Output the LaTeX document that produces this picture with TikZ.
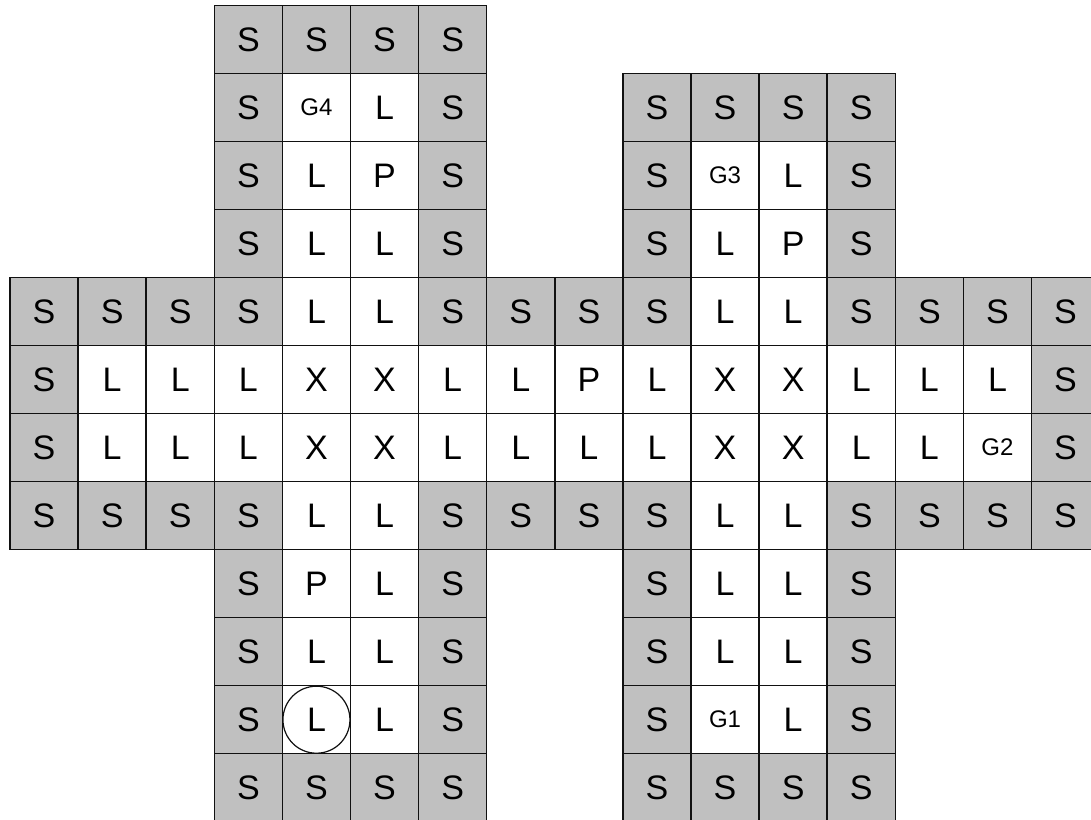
\documentclass[tikz,border=0pt]{standalone}
\usepackage{fontspec}
\setmainfont{Liberation Sans}
\definecolor{cellgray}{HTML}{C0C0C0}
\definecolor{lineblack}{HTML}{111111}
\tikzset{
  cell/.style={draw=lineblack, line width=1.5pt, minimum width=68.1pt, minimum height=68pt,
    inner sep=0pt, outer sep=0pt, fill=white, font=\fontsize{34}{38}\selectfont},
  cell S/.style={fill=cellgray},
  cell L/.style={}, cell P/.style={}, cell X/.style={},
  cell G1/.style={font=\fontsize{24}{28}\selectfont},
  cell G2/.style={font=\fontsize{24}{28}\selectfont},
  cell G3/.style={font=\fontsize{24}{28}\selectfont},
  cell G4/.style={font=\fontsize{24}{28}\selectfont},
  ring/.style={draw=lineblack, line width=1.2pt, circle, minimum size=67pt, inner sep=0pt}
}
\newcommand\gridrow[2]{%
  \foreach \c/\t in {#2} {%
    \node[cell, cell \t] (n-\c-#1) at ({44.05+68.1*\c},{-(39.7+68*#1)}) {\t};%
  }%
}
\begin{document}
\begin{tikzpicture}[x=1pt,y=1pt]
\useasboundingbox (0,0) rectangle (1091,-819);
\clip (0,0) rectangle (1091,-819);
\fill[white] (0,0) rectangle (1091,-819);
\gridrow{0}{3/S,4/S,5/S,6/S}
\gridrow{1}{3/S,4/G4,5/L,6/S,9/S,10/S,11/S,12/S}
\gridrow{2}{3/S,4/L,5/P,6/S,9/S,10/G3,11/L,12/S}
\gridrow{3}{3/S,4/L,5/L,6/S,9/S,10/L,11/P,12/S}
\gridrow{4}{0/S,1/S,2/S,3/S,4/L,5/L,6/S,7/S,8/S,9/S,10/L,11/L,12/S,13/S,14/S,15/S}
\gridrow{5}{0/S,1/L,2/L,3/L,4/X,5/X,6/L,7/L,8/P,9/L,10/X,11/X,12/L,13/L,14/L,15/S}
\gridrow{6}{0/S,1/L,2/L,3/L,4/X,5/X,6/L,7/L,8/L,9/L,10/X,11/X,12/L,13/L,14/G2,15/S}
\gridrow{7}{0/S,1/S,2/S,3/S,4/L,5/L,6/S,7/S,8/S,9/S,10/L,11/L,12/S,13/S,14/S,15/S}
\gridrow{8}{3/S,4/P,5/L,6/S,9/S,10/L,11/L,12/S}
\gridrow{9}{3/S,4/L,5/L,6/S,9/S,10/L,11/L,12/S}
\gridrow{10}{3/S,4/L,5/L,6/S,9/S,10/G1,11/L,12/S}
\gridrow{11}{3/S,4/S,5/S,6/S,9/S,10/S,11/S,12/S}
\node[ring] (ringL) at (n-4-10.center) {};
\end{tikzpicture}
\end{document}
